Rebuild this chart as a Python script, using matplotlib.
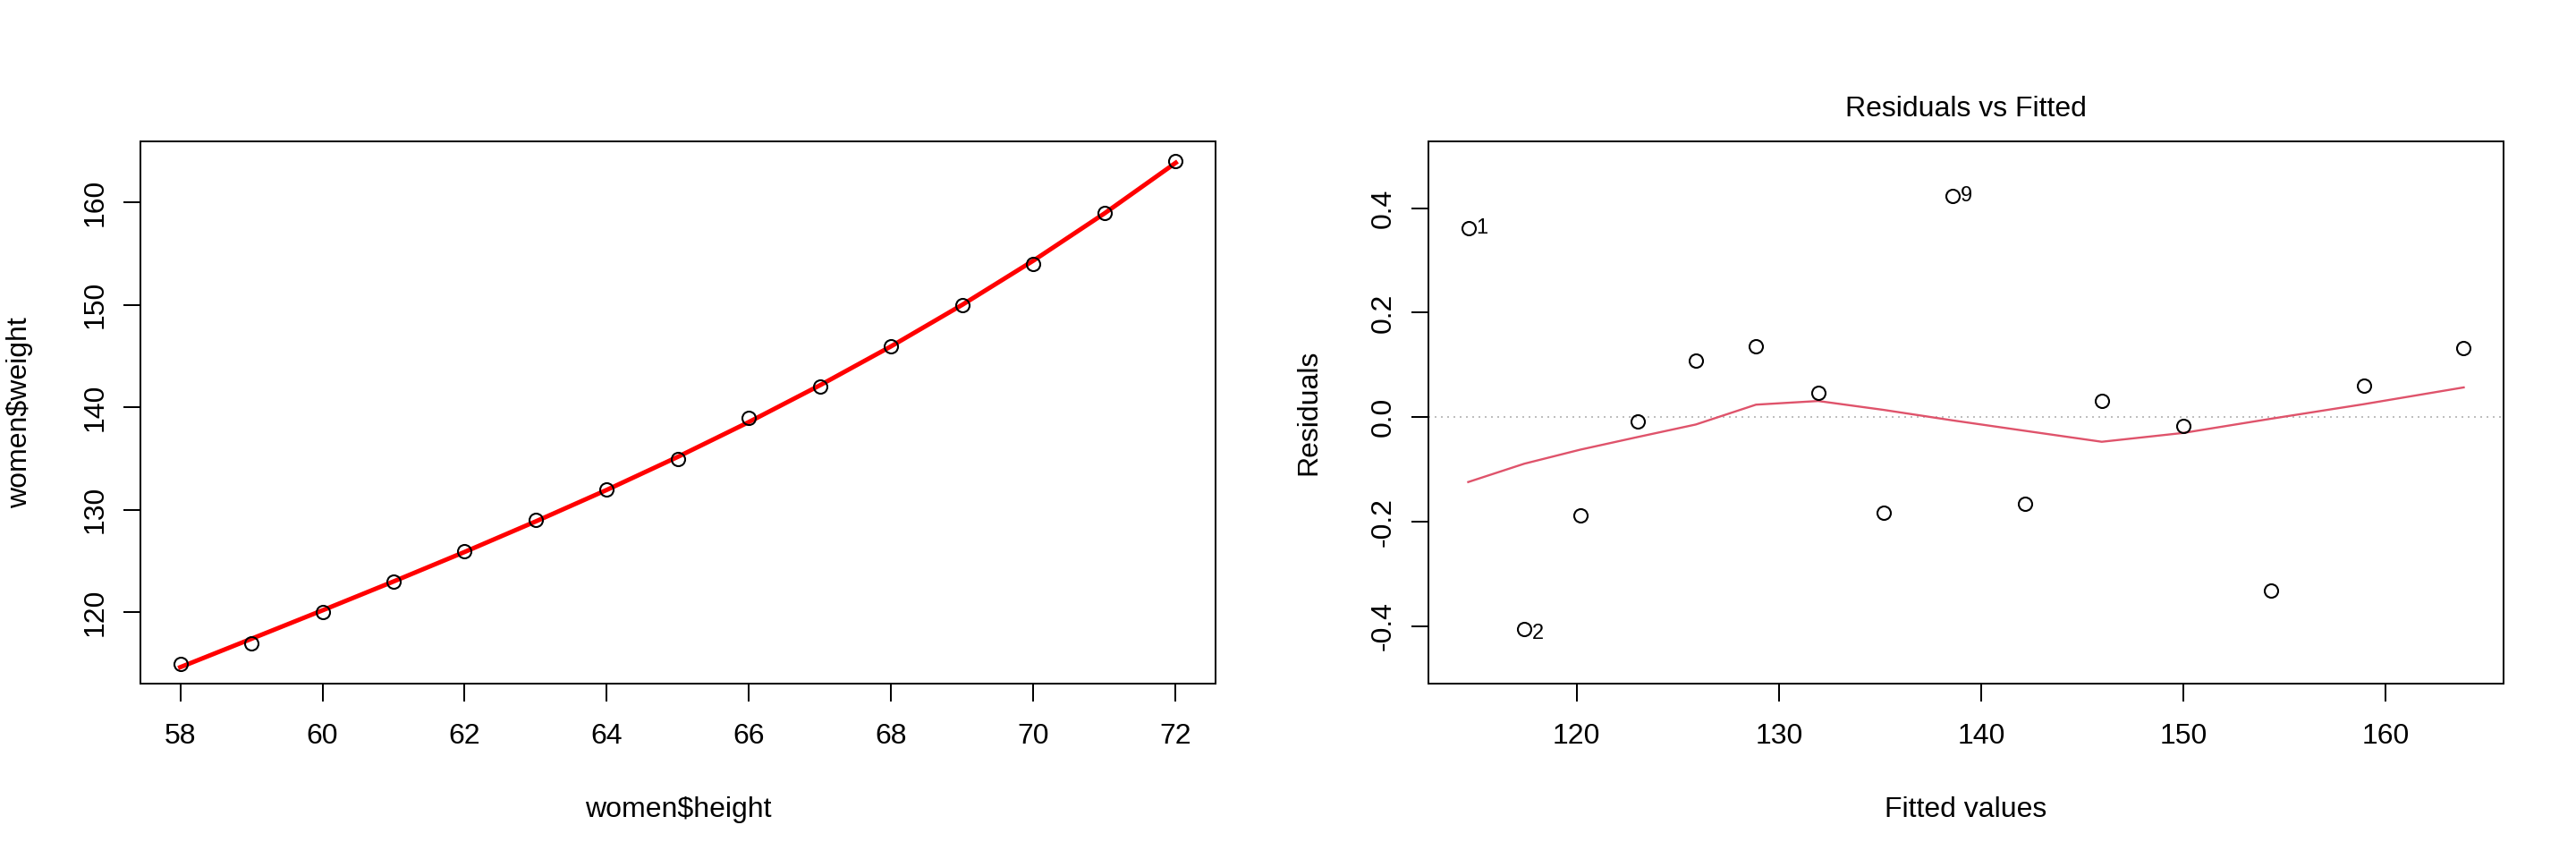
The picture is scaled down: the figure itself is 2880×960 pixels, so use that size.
import matplotlib
matplotlib.use("Agg")
import matplotlib.pyplot as plt
import numpy as np

plt.rcParams["font.family"] = ["Liberation Sans", "DejaVu Sans"]

# women dataset and quadratic fit
height = [58, 59, 60, 61, 62, 63, 64, 65, 66, 67, 68, 69, 70, 71, 72]
weight = [115, 117, 120, 123, 126, 129, 132, 135, 139, 142, 146, 150, 154, 159, 164]
fitted = [114.64, 117.41, 120.19, 123.01, 125.89, 128.87, 131.95, 135.18,
          138.58, 142.17, 145.97, 150.02, 154.33, 158.94, 163.87]
resid = [0.361, -0.405, -0.188, -0.008, 0.108, 0.135, 0.046, -0.183,
         0.423, -0.166, 0.031, -0.017, -0.332, 0.060, 0.132]
smooth = [-0.124, -0.089, -0.062, -0.038, -0.014, 0.024, 0.031, 0.014,
          -0.006, -0.026, -0.047, -0.030, -0.003, 0.025, 0.057]
flagged = [1, 2, 9]

FS = 23
LW = 1.44


def rlim(v):
    lo, hi = min(v), max(v)
    d = (hi - lo) * 0.04
    return lo - d, hi + d


def style(ax):
    for s in ax.spines.values():
        s.set_linewidth(LW)
    ax.tick_params(axis="x", length=14.4, width=LW, labelsize=FS, pad=17)
    ax.tick_params(axis="y", length=13.7, width=LW, labelsize=FS, pad=12,
                   labelrotation=90)
    for t in ax.get_yticklabels():
        t.set_va("center")


fig = plt.figure(figsize=(28.8, 9.6), dpi=100)
ax1 = fig.add_axes([0.05451, 0.20417, 0.41736, 0.63125])
ax2 = fig.add_axes([0.55451, 0.20417, 0.41736, 0.63125])

# left panel
ax1.plot(height, fitted, color="#FF0000", lw=3.6, zorder=2)
ax1.plot(height, weight, ls="none", marker="o", ms=10.8, mfc="none",
         mec="black", mew=1.5, zorder=3)
ax1.set_xlim(*rlim(height))
ax1.set_ylim(*rlim(weight))
ax1.set_xticks(np.arange(58, 73, 2))
ax1.set_yticks([120, 130, 140, 150, 160])
ax1.set_xlabel("women$height", fontsize=FS, va="center")
ax1.set_ylabel("women$weight", fontsize=FS, va="center")
ax1.xaxis.set_label_coords(0.5, -0.2327)
ax1.yaxis.set_label_coords(-0.1123, 0.5)
style(ax1)

# right panel
ax2.axhline(0, color="#BEBEBE", lw=1.44, ls=(0, (1, 2.5)), zorder=1)
ax2.plot(fitted, smooth, color="#DF536B", lw=1.7, zorder=2)
ax2.plot(fitted, resid, ls="none", marker="o", ms=10.8, mfc="none",
         mec="black", mew=1.5, zorder=3)
for i in flagged:
    dy = -3.5 if resid[i - 1] < 0 else 0
    ax2.annotate(str(i), (fitted[i - 1], resid[i - 1]), xytext=(6.5, dy),
                 textcoords="offset points", ha="left", va="center",
                 fontsize=17)
ax2.set_xlim(*rlim(fitted))
r_lo, r_hi = min(resid), max(resid)
r_d = r_hi - r_lo
ax2.set_ylim(*rlim([r_lo - 0.08 * r_d, r_hi + 0.08 * r_d]))
ax2.set_xticks([120, 130, 140, 150, 160])
ax2.set_yticks([-0.4, -0.2, 0.0, 0.2, 0.4])
ax2.set_yticklabels(["-0.4", "-0.2", "0.0", "0.2", "0.4"])
ax2.set_xlabel("Fitted values", fontsize=FS, va="center")
ax2.set_ylabel("Residuals", fontsize=FS, va="center")
ax2.xaxis.set_label_coords(0.5, -0.2327)
ax2.yaxis.set_label_coords(-0.1115, 0.5)
ax2.set_title("Residuals vs Fitted", fontsize=FS, va="center", y=1.0462)
style(ax2)

fig.savefig("out.png", dpi=100)
